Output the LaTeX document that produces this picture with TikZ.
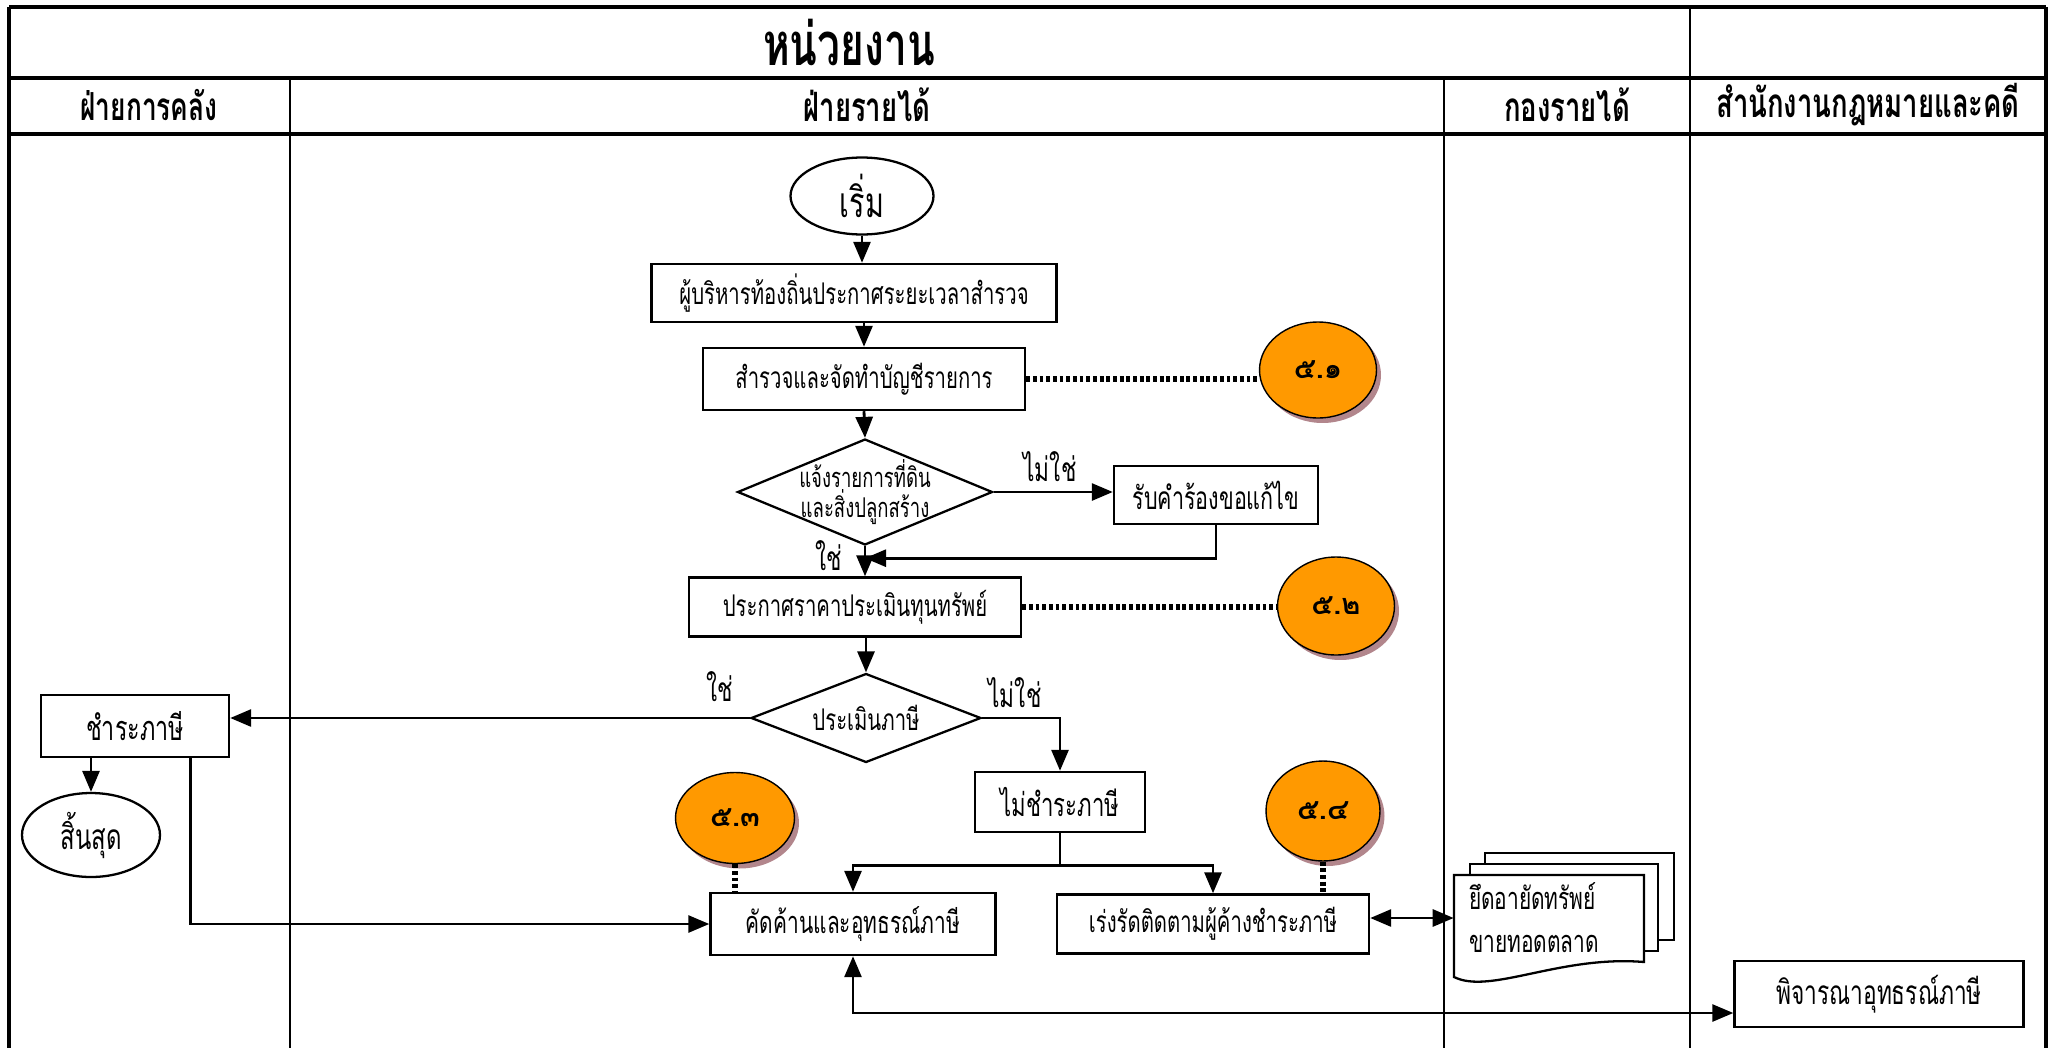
\documentclass[tikz,border=0pt]{standalone}
\usepackage{fontspec}
\setmainfont[Script=Thai,FakeStretch=0.68]{Loma}
\newfontfamily\numfont[Script=Thai]{Loma}
\usetikzlibrary{arrows.meta,shapes.geometric,shadows,calc}
\definecolor{orangefill}{RGB}{255,153,0}
\definecolor{shadecol}{RGB}{178,134,140}
\tikzset{
  box/.style={draw,line width=1.4pt,rectangle,inner sep=0pt},
  oval/.style={draw,line width=1.3pt,ellipse,inner sep=0pt},
  choice/.style={draw,line width=1.3pt,diamond,aspect=2.4,inner sep=-0.1cm},
  refnum/.style={draw,line width=0.8pt,ellipse,inner sep=0pt,fill=orangefill,
    font=\numfont\bfseries\fontsize{16.5}{18}\selectfont,
    drop shadow={shadow xshift=0.09cm,shadow yshift=-0.1cm,fill=shadecol,opacity=1}},
  arr/.style={line width=1.6pt,-{Triangle[length=0.42cm,width=0.34cm]}},
  twoway/.style={line width=1.6pt,{Triangle[length=0.42cm,width=0.34cm]}-{Triangle[length=0.42cm,width=0.34cm]}},
  dots/.style={line width=3pt,dash pattern=on 2.2pt off 1.6pt},
  frame/.style={line width=1.8pt},
  lane/.style={line width=1pt},
  lbl/.style={inner sep=0pt,font=\fontsize{19}{21}\selectfont},
  hdr/.style={inner sep=0pt,font=\bfseries\fontsize{23}{26}\selectfont}
}
\begin{document}
\begin{tikzpicture}[x=0.02cm,y=-0.02cm,font=\fontsize{17}{21}\selectfont]
  \useasboundingbox (0,0) rectangle (2051,1048);
  % swimlanes
  \draw[frame] (9,7) -- (2046,7);
  \draw[frame] (9,78) -- (2046,78);
  \draw[frame] (9,134) -- (2046,134);
  \draw[frame] (9,7) -- (9,1048);
  \draw[frame] (2046,7) -- (2046,1048);
  \draw[lane] (290,78) -- (290,1048);
  \draw[lane] (1444,78) -- (1444,1048);
  \draw[lane] (1690,7) -- (1690,1048);
  \node[hdr,font=\bfseries\fontsize{34}{36}\selectfont] (unit) at (849,42) {หน่วยงาน};
  \node[hdr,font=\bfseries\fontsize{22}{26}\selectfont] (finance) at (149,105) {ฝ่ายการคลัง};
  \node[hdr] (revenue) at (867,105) {ฝ่ายรายได้};
  \node[hdr] (revdiv) at (1567,105) {กองรายได้};
  \node[hdr] (legal) at (1868,105) {สำนักงานกฎหมายและคดี};
  % steps
  \node[oval,minimum width=2.86cm,minimum height=1.54cm,font=\fontsize{24}{26}\selectfont] (start) at (862,196) {เริ่ม};
  \node[box,minimum width=8.1cm,minimum height=1.16cm] (announce) at (854,293) {ผู้บริหารท้องถิ่นประกาศระยะเวลาสำรวจ};
  \node[box,minimum width=6.44cm,minimum height=1.24cm] (survey) at (864,379) {สำรวจและจัดทำบัญชีรายการ};
  \node[refnum,minimum width=2.34cm,minimum height=1.92cm] (ref1) at (1318,370) {๕.๑};
  \node[choice,minimum width=5.1cm,minimum height=2.12cm,align=center,font=\fontsize{15.5}{16}\selectfont] (notify) at (865,492) {แจ้งรายการที่ดิน\\และสิ่งปลูกสร้าง};
  \node[box,minimum width=4.08cm,minimum height=1.16cm,font=\fontsize{18}{21}\selectfont] (request) at (1216,495) {รับคำร้องขอแก้ไข};
  \node[box,minimum width=6.64cm,minimum height=1.18cm] (price) at (855,607) {ประกาศราคาประเมินทุนทรัพย์};
  \node[refnum,minimum width=2.34cm,minimum height=1.96cm] (ref2) at (1336,606) {๕.๒};
  \node[choice,minimum width=4.6cm,minimum height=1.78cm] (assess) at (866,718) {ประเมินภาษี};
  \node[box,minimum width=3.76cm,minimum height=1.24cm,font=\fontsize{19.5}{21}\selectfont] (pay) at (135,726) {ชำระภาษี};
  \node[oval,minimum width=2.76cm,minimum height=1.68cm,font=\fontsize{20}{22}\selectfont] (stop) at (91,835) {สิ้นสุด};
  \node[box,minimum width=3.4cm,minimum height=1.2cm,font=\fontsize{18.5}{21}\selectfont] (unpaid) at (1060,802) {ไม่ชำระภาษี};
  \node[refnum,minimum width=2.38cm,minimum height=1.82cm] (ref3) at (735,818) {๕.๓};
  \node[refnum,minimum width=2.28cm,minimum height=2cm] (ref4) at (1323,811) {๕.๔};
  \node[box,minimum width=5.7cm,minimum height=1.24cm,font=\fontsize{17.5}{21}\selectfont] (appeal) at (853,924) {คัดค้านและอุทธรณ์ภาษี};
  \node[box,minimum width=6.24cm,minimum height=1.18cm] (follow) at (1213,924) {เร่งรัดติดตามผู้ค้างชำระภาษี};
  \node[box,minimum width=5.78cm,minimum height=1.32cm,font=\fontsize{19}{21}\selectfont] (review) at (1879,994) {พิจารณาอุทธรณ์ภาษี};
  % document stack
  \draw[line width=1.3pt,fill=white] (1485,853) rectangle (1674,940);
  \draw[line width=1.3pt,fill=white] (1470,864) rectangle (1658,951);
  \draw[line width=1.3pt,fill=white] (1454,875) -- (1644,875) -- (1644,962)
    .. controls (1560,955) and (1490,995) .. (1454,977) -- cycle;
  \node[lbl,font=\fontsize{17.5}{21}\selectfont,minimum width=3.8cm,minimum height=1.74cm,text width=3.2cm,align=left] (seize) at (1549,918) {ยึดอายัดทรัพย์\\[0.12cm]ขายทอดตลาด};
  % flow
  \draw[arr] (start.south) -- (start.south |- announce.north);
  \draw[arr] (announce.south -| survey.north) -- (survey.north);
  \draw[dots] (survey.east) -- (survey.east -| ref1.west);
  \draw[arr] (survey.south) -- (notify.north);
  \draw[arr] (notify.east) -- (notify.east -| request.west);
  \node[lbl] (no1) at (1050,467) {ไม่ใช่};
  \draw[arr] (request.south) |- ($(notify.south)!0.4!(notify.south |- price.north)$);
  \draw[arr] (notify.south) -- (notify.south |- price.north);
  \node[lbl] (yes1) at (829,556) {ใช่};
  \draw[dots] (price.east) -- (price.east -| ref2.west);
  \draw[arr] (assess.north |- price.south) -- (assess.north);
  \draw[arr] (assess.west) -- (assess.west -| pay.east);
  \node[lbl] (yes2) at (720,687) {ใช่};
  \draw[arr] (assess.east) -| (unpaid.north);
  \node[lbl] (no2) at (1015,693) {ไม่ใช่};
  \draw[arr] (pay.south -| stop.north) -- (stop.north);
  \draw[arr] ($(pay.south east)+(-40,0)$) |- (appeal.west);
  \coordinate (split) at ($(unpaid.south)+(0,32)$);
  \draw[line width=1.3pt] (unpaid.south) -- (split);
  \draw[arr] (split) -| (appeal.north);
  \draw[arr] (split) -| (follow.north);
  \draw[dots] (ref3.south) -- (ref3.south |- appeal.north);
  \draw[dots] (ref4.south) -- (ref4.south |- follow.north);
  \draw[twoway] (follow.east |- seize.west) -- (seize.west);
  \draw[twoway] (appeal.south) |- ($(review.west)+(0,19)$);
\end{tikzpicture}
\end{document}
